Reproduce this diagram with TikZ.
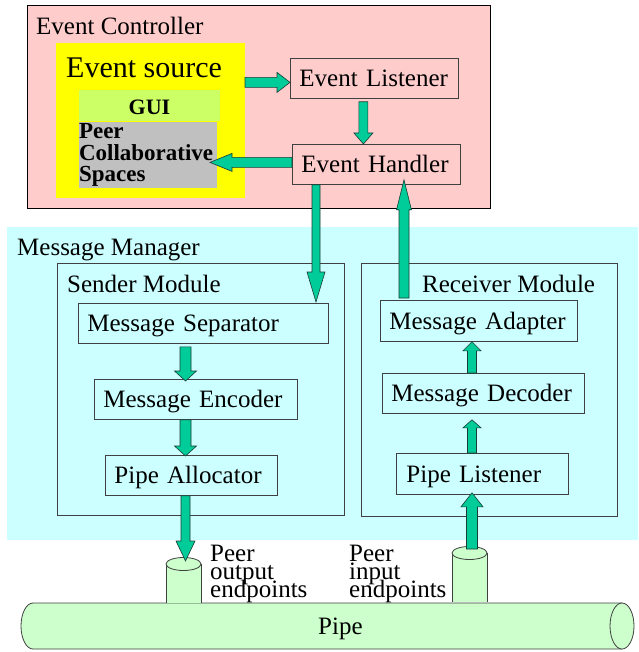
\documentclass[tikz,border=0pt]{standalone}
\usepackage{fontspec}
\setmainfont{Liberation Serif}
\usetikzlibrary{calc}
\definecolor{pinkbg}{HTML}{FFCCCC}
\definecolor{yel}{HTML}{FFFF00}
\definecolor{guigreen}{HTML}{CCFF66}
\definecolor{pcsgray}{HTML}{C0C0C0}
\definecolor{cyanbg}{HTML}{CCFFFF}
\definecolor{arrfill}{HTML}{00CC99}
\definecolor{arrline}{HTML}{1A3D33}
\definecolor{pipefill}{HTML}{CCFFCC}
\definecolor{boxline}{HTML}{404040}
\newcommand\tightlines{\lineskiplimit=-50pt\relax}
% block arrow: from, to, shaft half width, head half width, head length
\newcommand\blockarrow[5]{%
  \filldraw[barrow] let \p1=(#1), \p2=(#2),
    \n1={atan2(\y2-\y1,\x2-\x1)}, \n2={veclen(\x2-\x1,\y2-\y1)} in
    [shift={(\p1)}, rotate=\n1]
    (0pt,-#3pt) -- (\n2-#5pt,-#3pt) -- (\n2-#5pt,-#4pt) -- (\n2+0pt,0pt)
    -- (\n2-#5pt,#4pt) -- (\n2-#5pt,#3pt) -- (0pt,#3pt) -- cycle;}
\tikzset{
  region/.style={anchor=north west, inner sep=0pt, outer sep=0pt},
  ttl/.style={anchor=base west, inner sep=0pt, font=\fontsize{25pt}{30pt}\selectfont},
  box/.style={anchor=north west, draw=boxline, line width=0.8pt, minimum height=40pt,
    inner xsep=9pt, inner ysep=0pt, align=left, text height=19.5pt, text depth=2.5pt,
    font=\fontsize{25pt}{30pt}\selectfont},
  evbox/.style={box, fill=pinkbg},
  msgbox/.style={box, fill=cyanbg},
  barrow/.style={fill=arrfill, draw=arrline, line width=0.6pt, line join=miter},
  cyl/.style={fill=pipefill, draw=boxline, line width=0.8pt},
  pipeline/.style={draw=boxline, line width=0.8pt},
  lbl/.style={anchor=north west, inner sep=0pt, align=left,
    font=\fontsize{25pt}{18pt}\selectfont\tightlines},
}
\begin{document}
\hyphenpenalty=10000
\begin{tikzpicture}[x=1pt,y=-1pt]
\useasboundingbox (0,0) rectangle (638,652);
% regions
\node[region, fill=cyanbg, minimum width=631pt, minimum height=313pt] (mm) at (7,227) {};
\node[region, fill=pinkbg, draw=black, line width=0.8pt, minimum width=463pt, minimum height=203pt] (ctrl) at (27,5) {};
\node[ttl] (ctrlt) at (36,35) {Event Controller};
\node[region, fill=yel, minimum width=189pt, minimum height=155pt] (src) at (56,43) {};
\node[ttl, font=\fontsize{30pt}{36pt}\selectfont] (srct) at (66,78) {Event source};
\node[region, fill=guigreen, minimum width=141pt, minimum height=31pt,
  font=\fontsize{22pt}{26pt}\selectfont\bfseries, text height=19pt, text depth=0pt] (gui) at (79,90) {GUI};
\node[region, fill=pcsgray, minimum height=66pt, text width=138pt, align=left,
  font=\fontsize{23pt}{21.5pt}\selectfont\bfseries\tightlines] (pcs) at (79,122) {Peer\\Collaborative\\Spaces};
\node[evbox, text width=150pt] (lis) at (290,58) {Event Listener};
\node[evbox, text width=150pt] (han) at (292,144) {Event Handler};
% message manager
\node[ttl] (mmt) at (17,255) {Message Manager};
\node[region, draw=boxline, line width=0.8pt, minimum width=287pt, minimum height=252pt] (snd) at (57,263) {};
\node[ttl] (sndt) at (67,292) {Sender Module};
\node[msgbox, text width=232pt] (sep) at (78,303) {Message Separator};
\node[msgbox, text width=185pt] (enc) at (94,379) {Message Encoder};
\node[msgbox, text width=154pt] (alc) at (105,455) {Pipe Allocator};
\node[region, draw=boxline, line width=0.8pt, minimum width=256pt, minimum height=253pt] (rcv) at (361,263) {};
\node[ttl] (rcvt) at (422,292) {Receiver Module};
\node[msgbox, text width=179pt, minimum height=41pt] (ada) at (380,300) {Message Adapter};
\node[msgbox, text width=184pt] (dec) at (382,373) {Message Decoder};
\node[msgbox, text width=152pt, minimum height=41pt, inner xsep=10pt] (pls) at (396,453) {Pipe Listener};
% pipe (horizontal cylinder)
\fill[pipefill] (622,603) -- (33,603) arc[start angle=90, end angle=270, x radius=12pt, y radius=23pt]
  -- (622,649) arc[start angle=-90, end angle=90, x radius=12pt, y radius=23pt] -- cycle;
\draw[pipeline] (622,603) -- (33,603) arc[start angle=90, end angle=270, x radius=12pt, y radius=23pt] -- (622,649);
\draw[cyl] (622,626) ellipse [x radius=12pt, y radius=23pt];
\node[ttl] (pipe) at (318,634) {Pipe};
% endpoint cylinders
\fill[pipefill] (166,564) rectangle (201,603);
\draw[pipeline] (166,564) -- (166,603) (201,564) -- (201,603);
\draw[cyl] (183.5,564) ellipse [x radius=17.5pt, y radius=6.5pt];
\coordinate (outtop) at (183.5,564);
\fill[pipefill] (452,553) rectangle (487,602);
\draw[pipeline] (452,553) -- (452,602) (487,553) -- (487,602);
\draw[cyl] (469.5,553) ellipse [x radius=17.5pt, y radius=6.5pt];
\coordinate (intop) at (469.5,553);
\node[lbl] (outl) at (210,545) {Peer\\output\\endpoints};
\node[lbl] (inl) at (349,545) {Peer\\input\\endpoints};
% arrows
\coordinate (a1) at ($(lis.west)+(0pt,-4pt)$);
\blockarrow{src.east |- a1}{a1}{5}{10}{13}
\coordinate (a2) at ($(lis.south)+(-11pt,0pt)$);
\blockarrow{$(a2)+(0pt,-3pt)$}{a2 |- han.north}{4.5}{9.5}{11}
\coordinate (a3) at ($(han.west)+(0pt,2pt)$);
\blockarrow{a3}{$(pcs.east |- a3)+(-7pt,0pt)$}{5}{9}{22}
\coordinate (a4) at ($(han.south west)+(24pt,0pt)$);
\blockarrow{a4}{$(a4 |- sep.north)+(0pt,1pt)$}{4}{9}{30}
\coordinate (a5) at ($(ada.north west)+(24pt,0pt)$);
\blockarrow{$(a5)+(0pt,2pt)$}{$(a5 |- han.south)+(0pt,5pt)$}{5}{7.5}{30}
\coordinate (scol) at (185.5,440);
\blockarrow{$(sep.south -| scol)+(0pt,-3pt)$}{$(enc.north -| scol)+(0pt,-2pt)$}{5.5}{11}{10}
\blockarrow{enc.south -| scol}{$(alc.north -| scol)+(0pt,-1pt)$}{5.5}{11}{10}
\blockarrow{alc.south -| scol}{$(outtop -| scol)+(0pt,3pt)$}{4.5}{9.5}{20}
\coordinate (rcol) at (472,440);
\blockarrow{$(intop -| rcol)+(0pt,4pt)$}{$(pls.south -| rcol)+(0pt,2pt)$}{5.5}{11}{14}
\blockarrow{pls.north -| rcol}{$(dec.south -| rcol)+(0pt,-6pt)$}{4.5}{9}{8}
\blockarrow{dec.north -| rcol}{ada.south -| rcol}{4.5}{9}{9}
\end{tikzpicture}
\end{document}
